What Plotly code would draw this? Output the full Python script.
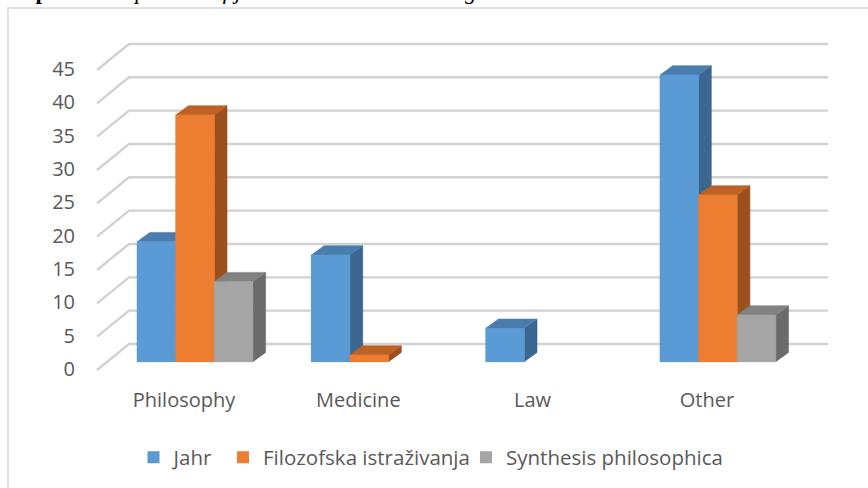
import plotly.graph_objects as go

# ---------------- data ----------------
categories = ["Philosophy", "Medicine", "Law", "Other"]
series_names = ["Jahr", "Filozofska istraživanja", "Synthesis philosophica"]
jahr = [18, 16, 5, 43]
filozofska = [37, 1, 0, 25]
synthesis = [12, 0, 0, 7]
y_ticks = [0, 5, 10, 15, 20, 25, 30, 35, 40, 45]
title_html = "<b>Graph 1:</b> <i>Comparison of journals in the main categories</i>"

series_values = [jahr, filozofska, synthesis]
front_colors = ["#5B9BD5", "#ED7D31", "#A5A5A5"]
top_colors = ["#4A7DAE", "#BC6226", "#828282"]
side_colors = ["#3B6690", "#9B501E", "#6B6B6B"]

# ---------------- geometry (pixels -> data units) ----------------
W, H = 868, 488
L, R, T, B = 76, 850, 30, 386
X0, S = 195.0, 174.3      # px of first category centre, px per category
Y0, K = 361.7, 6.667      # px of value 0 at bar base, px per unit


def pc(px):
    return (px - X0) / S


def pv(py):
    return (Y0 - py) / K


bar_w = 38.6 / S
dep_c = 12.7 / S
dep_v = 9.3 / K
wall_front_c, wall_back_c, wall_right_c = pc(97), pc(129), pc(828)
floor_front_dv, wall_back_dv = pv(370), pv(344)
label_shift = -11 / S
legend_left_px = [133.5, 223.0, 466.0]
legend_mid_px = 457.5

fig = go.Figure()

# legend carriers (front faces, drawn again above by polygons)
legend_ids = ["legend", "legend2", "legend3"]
for s, (name, vals) in enumerate(zip(series_names, series_values)):
    fig.add_trace(go.Bar(
        x=[i + (s - 1) * bar_w for i in range(len(categories))],
        y=vals, width=bar_w, name=name, legend=legend_ids[s],
        marker=dict(color=front_colors[s], line=dict(width=0)),
        hoverinfo="skip", showlegend=True))

# 3-D wall gridlines
gx, gy = [], []
for v in y_ticks:
    gx += [wall_front_c, wall_back_c, wall_right_c, None]
    gy += [v + floor_front_dv, v + wall_back_dv, v + wall_back_dv, None]
fig.add_trace(go.Scatter(x=gx, y=gy, mode="lines",
                         line=dict(color="#D2D2D2", width=2.4),
                         hoverinfo="skip", showlegend=False))

# 3-D bars (painter order: left to right)
for s, vals in enumerate(series_values):
    sx, sy, tx, ty, fx, fy = [], [], [], [], [], []
    for i, v in enumerate(vals):
        if v <= 0:
            continue
        x0 = i + (s - 1) * bar_w - bar_w / 2
        x1 = x0 + bar_w
        sx += [x1, x1 + dep_c, x1 + dep_c, x1, x1, None]
        sy += [0, dep_v, v + dep_v, v, 0, None]
        tx += [x0, x0 + dep_c, x1 + dep_c, x1, x0, None]
        ty += [v, v + dep_v, v + dep_v, v, v, None]
        fx += [x0, x1, x1, x0, x0, None]
        fy += [0, 0, v, v, 0, None]
    for xs, ys, col in ((sx, sy, side_colors[s]), (tx, ty, top_colors[s]),
                        (fx, fy, front_colors[s])):
        fig.add_trace(go.Scatter(x=xs, y=ys, mode="lines", fill="toself",
                                 fillcolor=col, line=dict(color=col, width=0.6),
                                 hoverinfo="skip", showlegend=False))

font_main = dict(family="Open Sans, Noto Sans, sans-serif", size=20, color="#595959")
font_leg = dict(family="Open Sans, Noto Sans, sans-serif", size=20.5, color="#595959")


def legend_cfg(px):
    return dict(orientation="h", xref="container", yref="container",
                x=px / W, xanchor="left", y=1 - legend_mid_px / H, yanchor="middle",
                font=font_leg, bgcolor="rgba(0,0,0,0)", borderwidth=0)


fig.update_layout(
    width=W, height=H,
    margin=dict(l=L, r=W - R, t=T, b=H - B, pad=0, autoexpand=False),
    paper_bgcolor="white", plot_bgcolor="rgba(0,0,0,0)",
    barmode="overlay", bargap=0,
    showlegend=True,
    legend=legend_cfg(legend_left_px[0]),
    legend2=legend_cfg(legend_left_px[1]),
    legend3=legend_cfg(legend_left_px[2]),
    xaxis=dict(range=[pc(L), pc(R)], showgrid=False, zeroline=False, showline=False,
               tickvals=[i + label_shift for i in range(len(categories))],
               ticktext=categories, ticks="", tickfont=font_main, fixedrange=True,
               automargin=False),
    yaxis=dict(range=[pv(B), pv(T)], showgrid=False, zeroline=False, showline=False,
               tickvals=[v + pv(369) for v in y_ticks],
               ticktext=[str(v) for v in y_ticks], ticks="", tickfont=font_main,
               fixedrange=True, automargin=False),
    font=font_main,
    shapes=[dict(type="rect", xref="paper", yref="paper",
                 x0=(8 - L) / (R - L), x1=(900 - L) / (R - L),
                 y0=(B - 520) / (B - T), y1=(B - 8) / (B - T),
                 line=dict(color="#D9D9D9", width=1.5), fillcolor="rgba(0,0,0,0)",
                 layer="below")],
    annotations=[dict(text=title_html, xref="paper", yref="paper",
                      x=(-6 - L) / (R - L), xanchor="left",
                      y=(B - 6) / (B - T), yanchor="bottom", showarrow=False,
                      font=dict(family="Liberation Serif, serif", size=23, color="black"))],
)

fig.write_html("out.html", config={"displayModeBar": False},
               post_script="document.body.style.margin='0px';document.body.style.overflow='hidden';")
